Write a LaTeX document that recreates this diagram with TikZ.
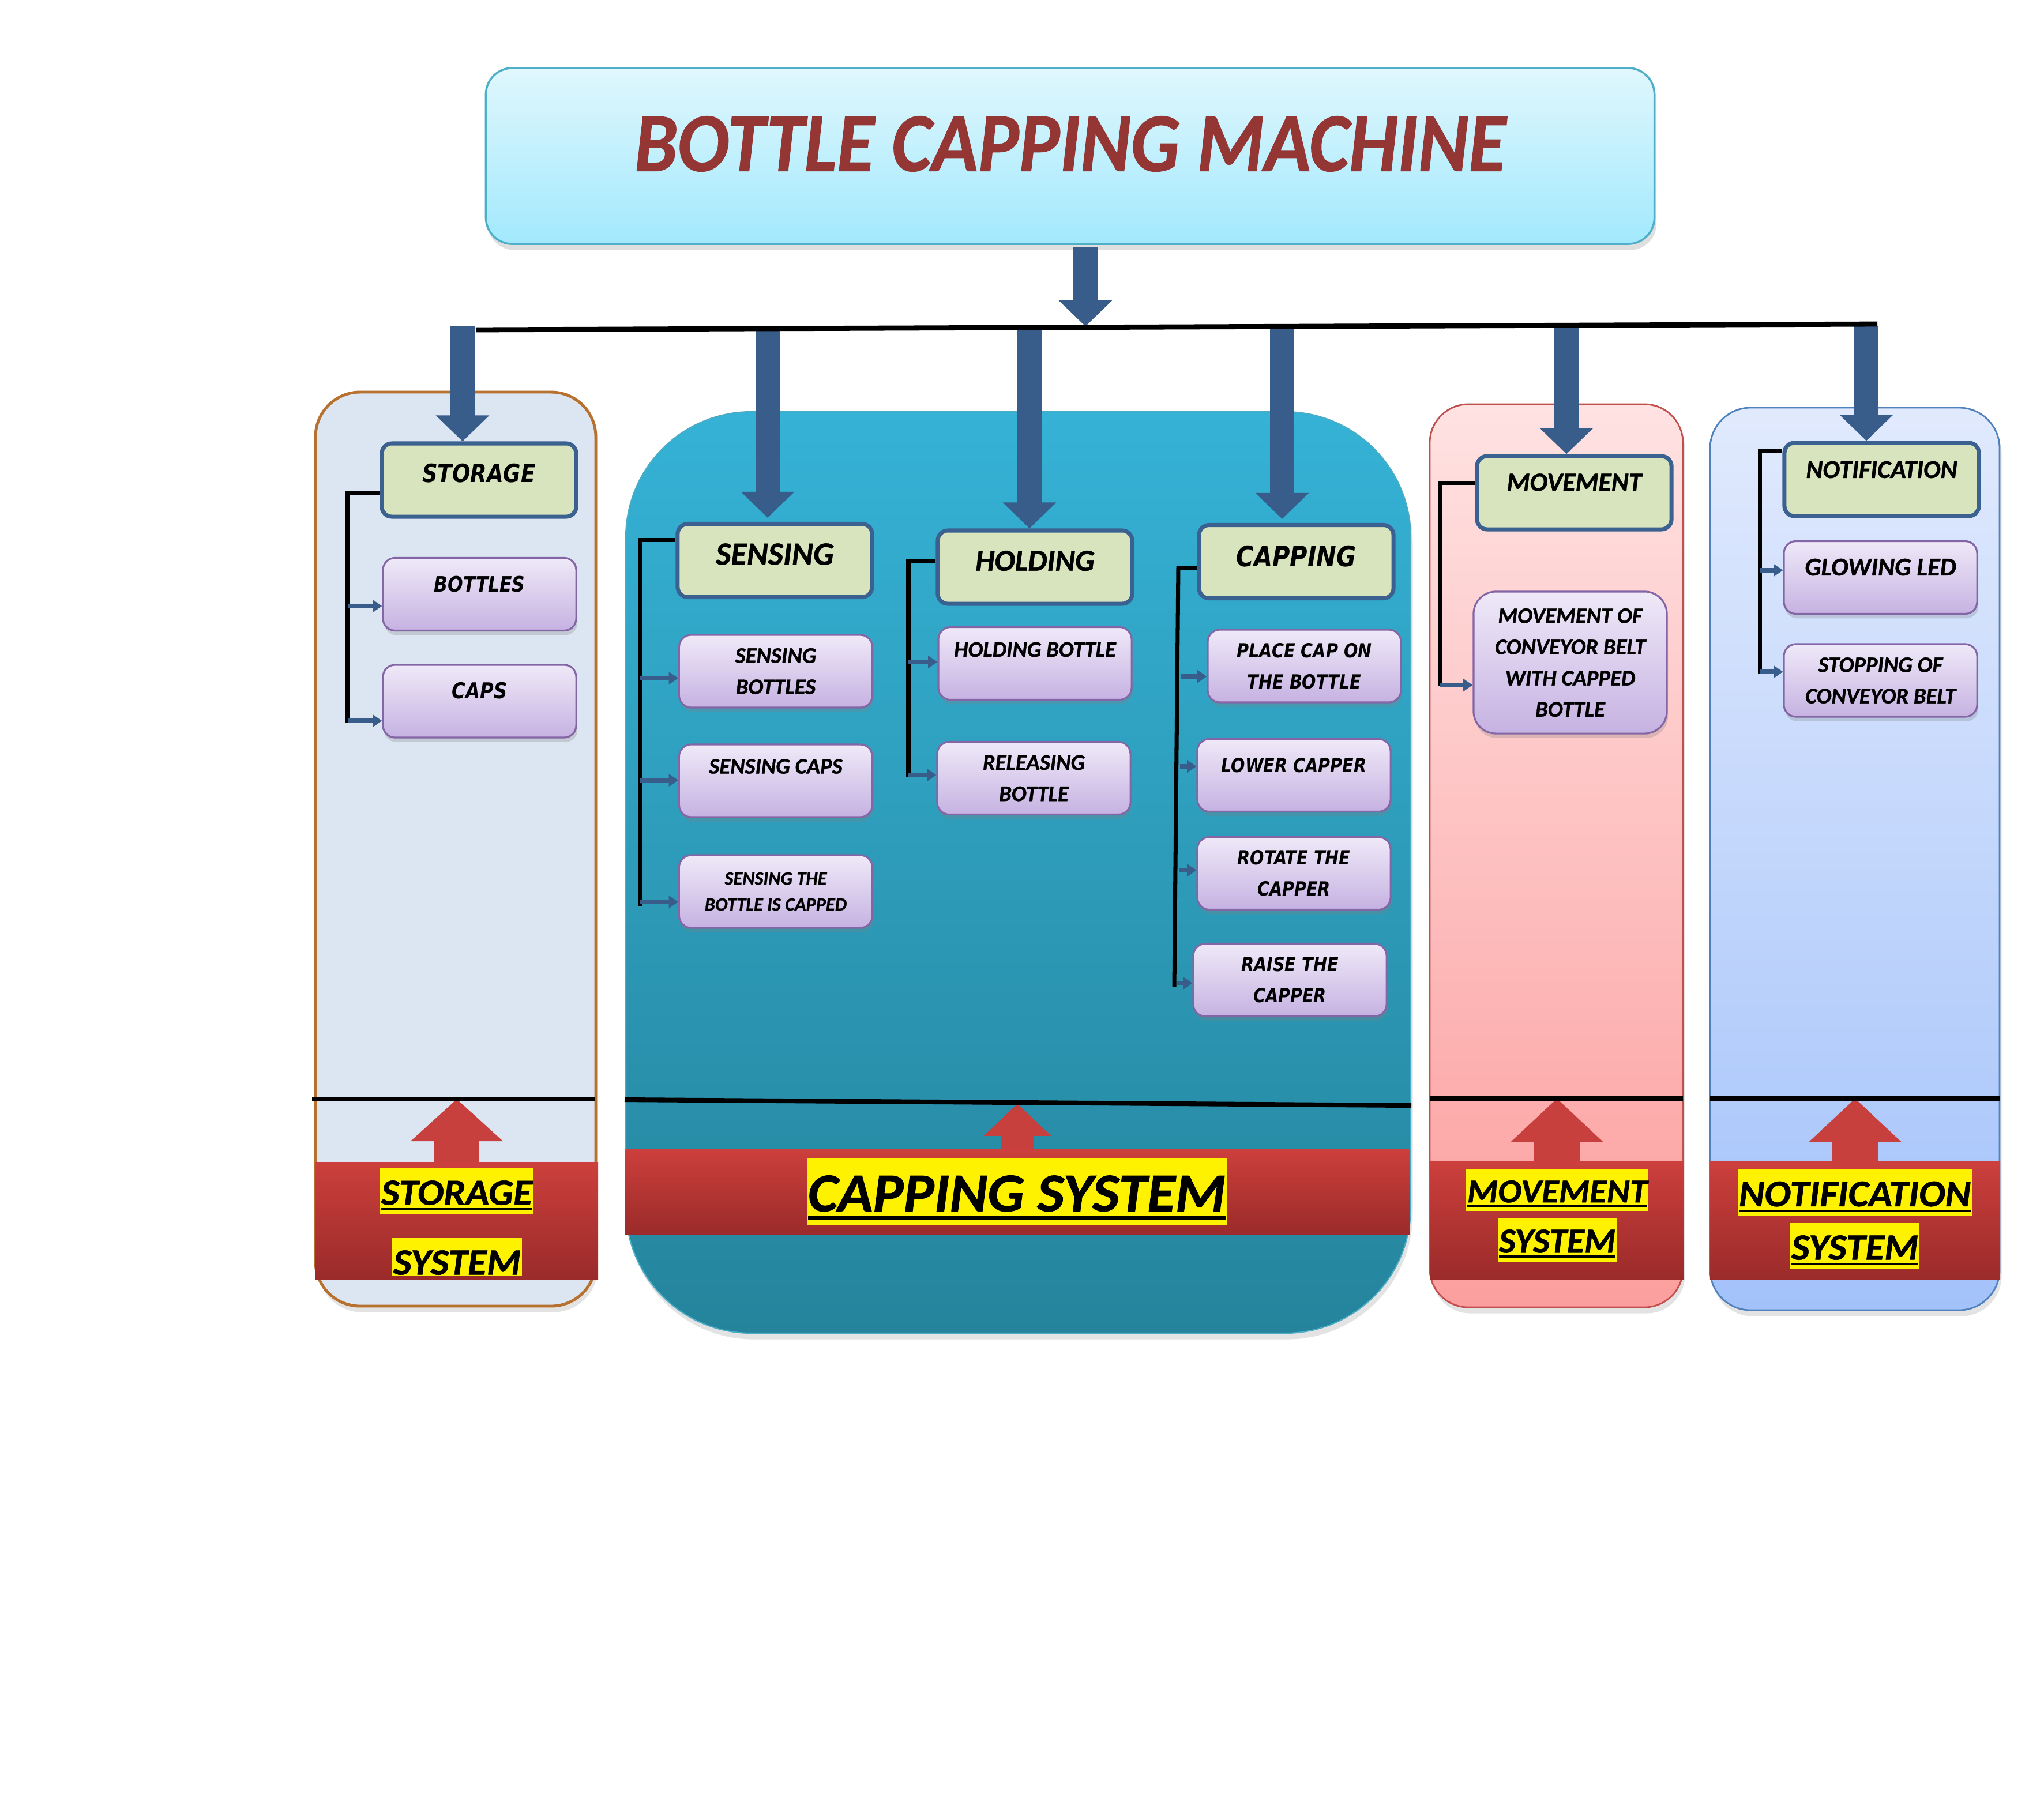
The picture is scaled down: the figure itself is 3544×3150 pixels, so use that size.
\documentclass[tikz,border=0pt]{standalone}
\usepackage{fontspec}
\usepackage{graphicx}
\setmainfont{Carlito}[BoldItalicFeatures={FakeBold=0.9}]
\newfontfamily\wideface{DejaVu Sans}[FakeStretch=0.85]
\usetikzlibrary{arrows.meta,shadows}

% palette
\definecolor{arrowblue}{HTML}{385D8A}
\definecolor{hdrfill}{HTML}{D7E4BD}
\definecolor{hdrline}{HTML}{3B6190}
\definecolor{kidtop}{HTML}{EFE9F8}
\definecolor{kidbot}{HTML}{C6B2E2}
\definecolor{kidline}{HTML}{8466A6}
\definecolor{titletop}{HTML}{E0F7FD}
\definecolor{titlebot}{HTML}{A2E9FD}
\definecolor{titleline}{HTML}{4FAFC8}
\definecolor{titletext}{HTML}{943634}
\definecolor{storfill}{HTML}{DCE6F2}
\definecolor{storline}{HTML}{B8702F}
\definecolor{captop}{HTML}{35B2D6}
\definecolor{capbot}{HTML}{25849C}
\definecolor{capline}{HTML}{4BACC6}
\definecolor{movtop}{HTML}{FFE2E2}
\definecolor{movbot}{HTML}{FC9E9E}
\definecolor{movline}{HTML}{C0504D}
\definecolor{nottop}{HTML}{E1EAFD}
\definecolor{notbot}{HTML}{A3C2FA}
\definecolor{notline}{HTML}{4F81BD}
\definecolor{bantop}{HTML}{CC3F3C}
\definecolor{banbot}{HTML}{9A2B2A}
\definecolor{redarrow}{HTML}{C8403D}

% font helpers
\newcommand\calf[2]{\fontsize{#1}{#2}\selectfont\bfseries\itshape}
\newcommand\widf[2]{\wideface\fontsize{#1}{#2}\selectfont\bfseries\itshape}
% lift a line of text without changing its box
\newcommand\up[2]{\raisebox{#1}[\height][\depth]{#2}}
% yellow highlighted, underlined banner word: width, cap height, text
\newcommand\hilite[3]{{\setlength\fboxsep{0.02cm}\colorbox{yellow}{\vbox{%
  \kern\dimexpr#2*45/100\relax
  \hbox{\resizebox{#1}{#2}{\calf{20}{24}#3}}%
  \kern\dimexpr#2*12/100\relax
  \hrule height\dimexpr#2*11/100\relax
  \kern\dimexpr#2*10/100\relax}}}}

\begin{document}
\begin{tikzpicture}[x=0.01cm, y=-0.01cm,
  titlebox/.style={draw=titleline, line width=1pt, top color=titletop, bottom color=titlebot,
    rounded corners=13pt, minimum width=20.25cm, minimum height=3.05cm, inner sep=0pt,
    drop shadow={shadow xshift=1pt, shadow yshift=-3pt, opacity=0.25}},
  hdr/.style={draw=hdrline, line width=2pt, fill=hdrfill, rounded corners=5pt,
    minimum width=3.37cm, minimum height=1.27cm, inner sep=0pt},
  kid/.style={draw=kidline, line width=0.9pt, top color=kidtop, bottom color=kidbot,
    rounded corners=6pt, minimum width=3.35cm, minimum height=1.26cm, inner sep=0pt, align=center,
    drop shadow={shadow xshift=0.6pt, shadow yshift=-2.2pt, opacity=0.28}},
  panelshadow/.style={drop shadow={shadow xshift=1pt, shadow yshift=-3pt, opacity=0.22}},
  grparrow/.style={arrowblue, line width=11.7pt, -{Triangle[width=25.6pt,length=12.8pt]}},
  kidarrow/.style={arrowblue, line width=2.1pt, -{Triangle[width=6pt,length=4.6pt]}},
  brk/.style={black, line width=2pt},
  bus/.style={black, line width=2.5pt},
  sysline/.style={black, line width=2.3pt},
  banner/.style={top color=bantop, bottom color=banbot, inner sep=0pt, draw=none},
  redarr/.style n args={3}{redarrow, line width=#1, -{Triangle[width=#2,length=#3]}},
  hl/.style={inner sep=0pt}
]
\useasboundingbox[fill=white] (0,0) rectangle (3544,3150);

% ---------- subsystem panels ----------
\path[draw=storline, line width=1.4pt, fill=storfill, rounded corners=22pt, panelshadow]
  (547,680) rectangle (1033,2265);
\path[draw=capline, line width=0.6pt, top color=captop, bottom color=capbot, rounded corners=62pt, panelshadow]
  (1085,714) rectangle (2446,2312);
\path[draw=movline, line width=0.8pt, top color=movtop, bottom color=movbot, rounded corners=19pt, panelshadow]
  (2479,701) rectangle (2918,2267);
\path[draw=notline, line width=0.8pt, top color=nottop, bottom color=notbot, rounded corners=20pt, panelshadow]
  (2965,707) rectangle (3467,2272);

% ---------- title ----------
\node[titlebox] (title) at (1855.5,270.5)
  {\up{0.21cm}{\textcolor{titletext}{\resizebox{15.1cm}{0.95cm}{\calf{40}{48}BOTTLE CAPPING MACHINE}}}};

\coordinate (tA) at (1882,428);
\coordinate (tB) at (1882,566);
\draw[grparrow] (tA) -- (tB);

% ---------- headers ----------
\node[hdr, font=\widf{12.4}{15}] (stor) at (830.5,832.5)  {\up{0.12cm}{STORAGE}};
\node[hdr, font=\calf{16}{19}]   (sens) at (1343.5,972)   {\up{0.11cm}{SENSING}};
\node[hdr, font=\calf{15}{18}]   (hold) at (1794.5,983.5) {\up{0.11cm}{HOLDING}};
\node[hdr, font=\widf{13.9}{16}] (capg) at (2247.5,974)   {\up{0.09cm}{CAPPING}};
\node[hdr, font=\calf{13}{16}]   (move) at (2729.5,854.5) {\up{0.18cm}{MOVEMENT}};
\node[hdr, font=\calf{12.6}{15}] (noti) at (3262.5,831.5) {\up{0.17cm}{NOTIFICATION}};

% ---------- bus and drop arrows ----------
\coordinate (busL) at (825,572);
\coordinate (busR) at (3255,562);
\coordinate (gS) at (802,566);
\coordinate (gE) at (1331,566);
\coordinate (gH) at (1785,566);
\coordinate (gC) at (2223,566);
\coordinate (gM) at (2716,566);
\coordinate (gN) at (3236,566);
\draw[grparrow] (gS) -- (gS |- stor.north);
\draw[grparrow] (gE) -- ([yshift=2pt]gE |- sens.north);
\draw[grparrow] (gH) -- (gH |- hold.north);
\draw[grparrow] (gC) -- ([yshift=2pt]gC |- capg.north);
\draw[grparrow] (gM) -- (gM |- move.north);
\draw[grparrow] (gN) -- (gN |- noti.north);
\draw[bus] (busL) -- (busR);

% ---------- storage ----------
\node[kid, font=\widf{10.5}{15.4}] (bott) at (831.5,1030.5) {\up{0.17cm}{BOTTLES}};
\node[kid, font=\widf{10.8}{15.4}] (caps) at (831.5,1216)   {\up{0.18cm}{CAPS}};
\coordinate (sT) at (603,854);
\coordinate (sB) at (603,1254);
\draw[brk] (stor.west |- sT) -- (sT) -- (sB);
\draw[kidarrow] (sT |- 0,1051) -- (bott.west |- 0,1051);
\draw[kidarrow] (sT |- 0,1250) -- (caps.west |- 0,1250);

% ---------- sensing ----------
\node[kid, font=\calf{11}{15.4}]  (sbot) at (1345,1164) {SENSING\\BOTTLES};
\node[kid, font=\calf{11}{15.4}]  (scap) at (1345,1354) {\up{0.25cm}{SENSING CAPS}};
\node[kid, font=\calf{9.2}{12.8}] (scpd) at (1345,1546) {SENSING THE\\BOTTLE IS CAPPED};
\coordinate (eT) at (1110,936);
\coordinate (eB) at (1110,1571);
\draw[brk] (sens.west |- eT) -- (eT) -- (eB);
\draw[kidarrow] (eT |- 0,1176) -- (sbot.west |- 0,1176);
\draw[kidarrow] (eT |- 0,1353) -- (scap.west |- 0,1353);
\draw[kidarrow] (eT |- 0,1564) -- (scpd.west |- 0,1564);

% ---------- holding ----------
\node[kid, font=\calf{11}{15.4}] (hbot) at (1794.5,1150.5) {\up{0.24cm}{HOLDING BOTTLE}};
\node[kid, font=\calf{11}{15.4}] (rbot) at (1792.5,1349.5) {RELEASING\\BOTTLE};
\coordinate (hT) at (1575,972);
\coordinate (hB) at (1575,1347);
\draw[brk] (hold.west |- hT) -- (hT) -- (hB);
\draw[kidarrow] (hT |- 0,1148) -- (hbot.west |- 0,1148);
\draw[kidarrow] (hT |- 0,1344) -- (rbot.west |- 0,1344);

% ---------- capping ----------
\node[kid, font=\widf{9.6}{15.4}] (pcap) at (2261.5,1155)   {PLACE CAP ON\\THE BOTTLE};
\node[kid, font=\widf{9.6}{15.4}] (lcap) at (2243.5,1344.5) {\up{0.17cm}{LOWER CAPPER}};
\node[kid, font=\widf{9.6}{15.4}] (rcap) at (2243.5,1514.5) {ROTATE THE\\CAPPER};
\node[kid, font=\widf{9.6}{15.4}] (rais) at (2236.5,1699.5) {RAISE THE\\CAPPER};
\coordinate (cT) at (2043,985);
\coordinate (cB) at (2036,1711);
\draw[brk] (capg.west |- cT) -- (cT) -- (cB);
\draw[kidarrow] (2047,1173) -- (pcap.west |- 0,1173);
\draw[kidarrow] (2046,1329) -- (lcap.west |- 0,1329);
\draw[kidarrow] (2044,1509) -- (rcap.west |- 0,1509);
\draw[kidarrow] (2041,1705) -- (rais.west |- 0,1705);

% ---------- movement ----------
\node[kid, font=\calf{11}{15.4}, minimum height=2.46cm, rounded corners=11pt] (mcon) at (2722.5,1149)
  {MOVEMENT OF\\CONVEYOR BELT\\WITH CAPPED\\BOTTLE};
\coordinate (mT) at (2497,837);
\coordinate (mB) at (2497,1190);
\draw[brk] (move.west |- mT) -- (mT) -- (mB);
\draw[kidarrow] (mT |- 0,1188) -- (mcon.west |- 0,1188);

% ---------- notification ----------
\node[kid, font=\calf{12.6}{15}] (gled) at (3260.5,1001.5) {\up{0.18cm}{GLOWING LED}};
\node[kid, font=\calf{11}{15.4}] (stop) at (3260.5,1180)   {STOPPING OF\\CONVEYOR BELT};
\coordinate (nT) at (3051,782);
\coordinate (nB) at (3051,1168);
\draw[brk] (noti.west |- nT) -- (nT) -- (nB);
\draw[kidarrow] (nT |- 0,989) -- (gled.west |- 0,989);
\draw[kidarrow] (nT |- 0,1165) -- (stop.west |- 0,1165);

% ---------- system banners ----------
\node[banner, minimum width=4.90cm, minimum height=2.02cm]  (bnS) at (792,2117)    {};
\node[banner, minimum width=13.58cm, minimum height=1.47cm] (bnC) at (1764,2067.5) {};
\node[banner, minimum width=4.39cm, minimum height=2.05cm]  (bnM) at (2699.5,2116.5) {};
\node[banner, minimum width=5.03cm, minimum height=2.05cm]  (bnN) at (3216.5,2116.5) {};

\coordinate (lS1) at (541,1906);  \coordinate (lS2) at (1031,1906);
\coordinate (lC1) at (1083,1907); \coordinate (lC2) at (2447,1917);
\coordinate (lM1) at (2479,1905); \coordinate (lM2) at (2918,1905);
\coordinate (lN1) at (2965,1905); \coordinate (lN2) at (3467,1905);

\draw[redarr={22.2pt}{44.4pt}{20.8pt}] (bnS.north) -- (bnS.north |- lS1);
\draw[redarr={16.2pt}{32.4pt}{15.9pt}] (bnC.north) -- ([yshift=-2pt]bnC.north |- lC1);
\draw[redarr={22.8pt}{44.7pt}{21.6pt}] (bnM.north) -- (bnM.north |- lM1);
\draw[redarr={22.8pt}{44.7pt}{21.6pt}] (bnN.north) -- (bnN.north |- lN1);

\draw[sysline] (lS1) -- (lS2);
\draw[sysline] (lC1) -- (lC2);
\draw[sysline] (lM1) -- (lM2);
\draw[sysline] (lN1) -- (lN2);

% banner captions
\node[hl] (tS1) at (792,2066) {\hilite{2.62cm}{0.42cm}{STORAGE}};
\begin{scope}
  \clip (547,2016) rectangle (1037,2212);
  \node[hl] (tS2) at (792.5,2187) {\hilite{2.21cm}{0.42cm}{SYSTEM}};
\end{scope}
\node[hl] (tC) at (1763,2066) {\hilite{7.24cm}{0.62cm}{CAPPING SYSTEM}};
\node[hl] (tM1) at (2700,2064) {\hilite{3.12cm}{0.38cm}{MOVEMENT}};
\node[hl] (tM2) at (2700,2150) {\hilite{2.02cm}{0.40cm}{SYSTEM}};
\node[hl] (tN1) at (3216,2068) {\hilite{4.02cm}{0.43cm}{NOTIFICATION}};
\node[hl] (tN2) at (3216,2161) {\hilite{2.20cm}{0.42cm}{SYSTEM}};
\end{tikzpicture}
\end{document}
